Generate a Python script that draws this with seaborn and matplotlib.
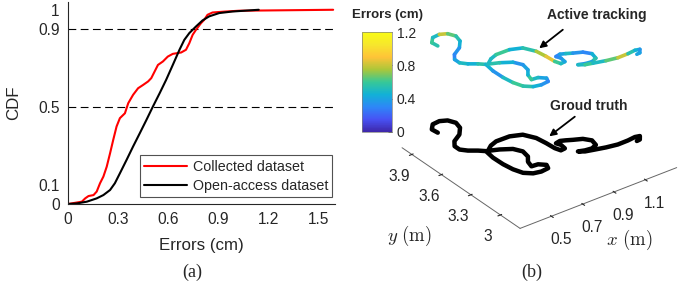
import numpy as np
import matplotlib
matplotlib.use("Agg")
import matplotlib.pyplot as plt
import seaborn as sns
from matplotlib.colors import LinearSegmentedColormap, Normalize
from mpl_toolkits.mplot3d.art3d import Line3DCollection

# ---------------- data: (a) CDF curves ----------------
collected_err = [0, 0.083, 0.103, 0.123, 0.153, 0.172, 0.192, 0.212, 0.232, 0.252, 0.271, 0.291,
                 0.311, 0.341, 0.361, 0.390, 0.420, 0.450, 0.480, 0.499, 0.519, 0.539, 0.569,
                 0.598, 0.628, 0.678, 0.707, 0.727, 0.747, 0.767, 0.797, 0.816, 0.836, 0.866,
                 0.945, 1.024, 1.589]
collected_cdf = [0, 0.012, 0.029, 0.041, 0.046, 0.064, 0.107, 0.141, 0.192, 0.261, 0.330, 0.399,
                 0.442, 0.467, 0.519, 0.562, 0.596, 0.613, 0.631, 0.648, 0.682, 0.716, 0.734,
                 0.759, 0.773, 0.780, 0.794, 0.828, 0.871, 0.897, 0.931, 0.948, 0.974, 0.986,
                 0.991, 0.995, 1.0]
open_err = [0, 0.053, 0.113, 0.172, 0.212, 0.252, 0.281, 0.311, 0.351, 0.390, 0.430, 0.470,
            0.509, 0.549, 0.588, 0.628, 0.668, 0.697, 0.727, 0.767, 0.806, 0.846, 0.906,
            0.985, 1.143]
open_cdf = [0, 0.003, 0.012, 0.029, 0.046, 0.072, 0.107, 0.158, 0.227, 0.296, 0.364, 0.433,
            0.502, 0.570, 0.639, 0.716, 0.794, 0.845, 0.880, 0.914, 0.945, 0.966, 0.983,
            0.991, 1.0]

# ---------------- data: (b) trajectory (m) and tracking error (cm) ----------------
traj_x = [0.439, 0.434, 0.468, 0.514, 0.552, 0.572, 0.559, 0.516, 0.456, 0.427, 0.427, 0.455,
          0.496, 0.525, 0.515, 0.517, 0.527, 0.547, 0.585, 0.629, 0.677, 0.690, 0.659, 0.620,
          0.633, 0.664, 0.674, 0.648, 0.591, 0.535, 0.578, 0.625, 0.709, 0.773, 0.808, 0.818,
          0.823, 0.835, 0.863, 0.868, 0.857, 0.887, 0.915, 0.946, 0.993, 1.021, 1.010, 0.973,
          0.933, 0.898, 0.927, 0.968, 1.036, 1.102, 1.167, 1.216, 1.242, 1.221, 1.200]
traj_y = [3.858, 3.911, 3.956, 3.962, 3.938, 3.885, 3.823, 3.761, 3.716, 3.668, 3.618, 3.577,
          3.540, 3.506, 3.418, 3.319, 3.234, 3.163, 3.121, 3.108, 3.115, 3.152, 3.189, 3.194,
          3.250, 3.300, 3.367, 3.427, 3.471, 3.501, 3.540, 3.561, 3.559, 3.526, 3.445, 3.360,
          3.281, 3.237, 3.241, 3.290, 3.322, 3.330, 3.314, 3.293, 3.265, 3.217, 3.160, 3.141,
          3.148, 3.164, 3.138, 3.123, 3.099, 3.083, 3.084, 3.091, 3.082, 3.049, 3.046]
track_err = [0.55, 0.6, 0.5, 0.8, 0.65, 0.55, 0.45, 0.35, 0.3, 0.4, 0.5, 0.45, 0.55, 0.45,
             0.35, 0.5, 0.6, 0.55, 0.45, 0.35, 0.3, 0.4, 0.5, 0.6, 0.45, 0.4, 0.35, 0.45, 0.55, 0.5,
             0.5, 0.6, 0.45, 0.55, 0.75, 0.85, 0.6, 0.5, 0.4, 0.35, 0.3, 0.4, 0.5, 0.35, 0.3, 0.45,
             0.55, 0.4, 0.35, 0.5, 0.6, 0.5, 0.65, 0.8, 0.55, 0.45, 0.35, 0.4, 0.5]
z_truth = 0.16
z_track = 1.02

# parula-like colormap
parula = LinearSegmentedColormap.from_list("parula", [
    (0.2422, 0.1504, 0.6603), (0.2810, 0.3228, 0.9579), (0.1786, 0.5289, 0.9682),
    (0.0689, 0.6948, 0.8394), (0.2161, 0.7843, 0.5923), (0.6720, 0.7793, 0.2227),
    (0.9970, 0.7659, 0.2199), (0.9651, 0.9060, 0.1713), (0.9769, 0.9839, 0.0805)])

sns.set_style("white")
plt.rcParams["font.family"] = ["Liberation Sans", "DejaVu Sans"]
plt.rcParams["mathtext.fontset"] = "cm"

fig = plt.figure(figsize=(6.97, 2.88), dpi=100)

# ---------------- (a) ----------------
ax = fig.add_axes([68 / 697, 84 / 288, 267 / 697, 202 / 288])
sns.lineplot(x=collected_err, y=collected_cdf, ax=ax, color="red", lw=1.5, sort=False,
             label="Collected dataset")
sns.lineplot(x=open_err, y=open_cdf, ax=ax, color="black", lw=1.5, sort=False,
             label="Open-access dataset")
ax.axhline(0.9, color="k", lw=0.8, ls=(0, (7, 4)), zorder=0)
ax.axhline(0.5, color="k", lw=0.8, ls=(0, (7, 4)), zorder=0)
ax.set_xlim(0, 1.6)
ax.set_ylim(0, 1.04)
ax.set_xticks([0, 0.3, 0.6, 0.9, 1.2, 1.5])
ax.set_xticklabels(["0", "0.3", "0.6", "0.9", "1.2", "1.5"])
ax.set_yticks([0, 0.1, 0.5, 0.9, 1])
ax.set_yticklabels(["0", "0.1", "0.5", "0.9", "1"])
ax.tick_params(direction="in", length=3, width=0.6, labelsize=11.2, colors="0.15", pad=6)
for s in ["top", "right"]:
    ax.spines[s].set_visible(False)
for s in ["left", "bottom"]:
    ax.spines[s].set_color("0.15")
    ax.spines[s].set_linewidth(0.8)
ax.set_xlabel("Errors (cm)", fontsize=12.2, color="0.15", labelpad=8)
ax.set_ylabel("CDF", fontsize=12.2, color="0.15", labelpad=12)
leg = ax.legend(loc="lower right", bbox_to_anchor=(0.99, 0.035), borderaxespad=0,
                fontsize=10.3, frameon=True, fancybox=False, handlelength=3.0,
                handletextpad=0.4, labelspacing=0.35, borderpad=0.3)
leg.get_frame().set_edgecolor("0.15")
leg.get_frame().set_linewidth(0.8)
fig.text(192 / 697, 1 - 272 / 288, "(a)", family="Liberation Serif", fontsize=13,
         ha="center", va="center")

# ---------------- (b) ----------------
ax3 = fig.add_axes([0.5055, 0.124, 0.525, 1.049], projection="3d")
ax3.set_proj_type("ortho")
n = len(traj_x)
ax3.plot(traj_x, traj_y, [z_truth] * n, color="black", lw=3.2, solid_capstyle="round")
pts = np.column_stack([traj_x, traj_y, [z_track] * n])
segs = np.stack([pts[:-1], pts[1:]], axis=1)
lc = Line3DCollection(segs, cmap=parula, norm=Normalize(0, 1.2), linewidths=2.6,
                      capstyle="round")
lc.set_array(np.array(track_err[:-1]))
ax3.add_collection3d(lc)
ax3.set_xlim(0.3, 1.3)
ax3.set_ylim(2.8, 4.0)
ax3.set_zlim(0, 1.2)
ax3.set_box_aspect((1, 1, 0.72))
ax3.view_init(elev=31, azim=-127)
ax3.set_xticks([0.5, 0.7, 0.9, 1.1])
ax3.set_xticklabels(["0.5", "0.7", "0.9", "1.1"])
ax3.set_yticks([3, 3.3, 3.6, 3.9])
ax3.set_yticklabels(["3", "3.3", "3.6", "3.9"])
ax3.set_zticks([])
ax3.grid(False)
for axis in [ax3.xaxis, ax3.yaxis, ax3.zaxis]:
    axis.set_pane_color((1, 1, 1, 0))
ax3.zaxis.line.set_color((1, 1, 1, 0))
ax3.xaxis.line.set_color("0.4")
ax3.yaxis.line.set_color("0.4")
ax3.xaxis.line.set_linewidth(0.7)
ax3.yaxis.line.set_linewidth(0.7)
ax3.tick_params(axis="x", labelsize=11.2, colors="0.15", pad=1)
ax3.tick_params(axis="y", labelsize=11.2, colors="0.15", pad=1)
fig.text(629 / 697, 1 - 240 / 288, r"$x\ \mathrm{(m)}$", fontsize=13.5, ha="center",
         va="center", color="0.15")
fig.text(409 / 697, 1 - 236 / 288, r"$y\ \mathrm{(m)}$", fontsize=13.5, ha="center",
         va="center", color="0.15")

cax = fig.add_axes([362 / 697, 1 - 132 / 288, 30 / 697, 100 / 288])
cb = fig.colorbar(lc, cax=cax, ticks=[0, 0.4, 0.8, 1.2])
cb.ax.set_yticklabels(["0", "0.4", "0.8", "1.2"])
cb.ax.tick_params(labelsize=10, colors="0.15", direction="in", length=3, width=0.6)
cb.outline.set_linewidth(0.5)
cb.outline.set_edgecolor("0.5")
fig.text(388 / 697, 1 - 15 / 288, "Errors (cm)", fontsize=9.5, fontweight="bold",
         ha="center", va="center")

fig.text(597 / 697, 1 - 15 / 288, "Active tracking", fontsize=10, fontweight="bold",
         ha="center", va="center")
fig.text(589 / 697, 1 - 106 / 288, "Groud truth", fontsize=10, fontweight="bold",
         ha="center", va="center")
fig.add_artist(matplotlib.patches.FancyArrowPatch(
    (565 / 697, 1 - 28 / 288), (537 / 697, 1 - 50 / 288), transform=fig.transFigure,
    arrowstyle="-|>", mutation_scale=10, lw=1.3, color="black"))
fig.add_artist(matplotlib.patches.FancyArrowPatch(
    (577 / 697, 1 - 115 / 288), (547 / 697, 1 - 138 / 288), transform=fig.transFigure,
    arrowstyle="-|>", mutation_scale=10, lw=1.3, color="black"))
fig.text(532 / 697, 1 - 272 / 288, "(b)", family="Liberation Serif", fontsize=13,
         ha="center", va="center")

fig.savefig("out.png", dpi=100)
